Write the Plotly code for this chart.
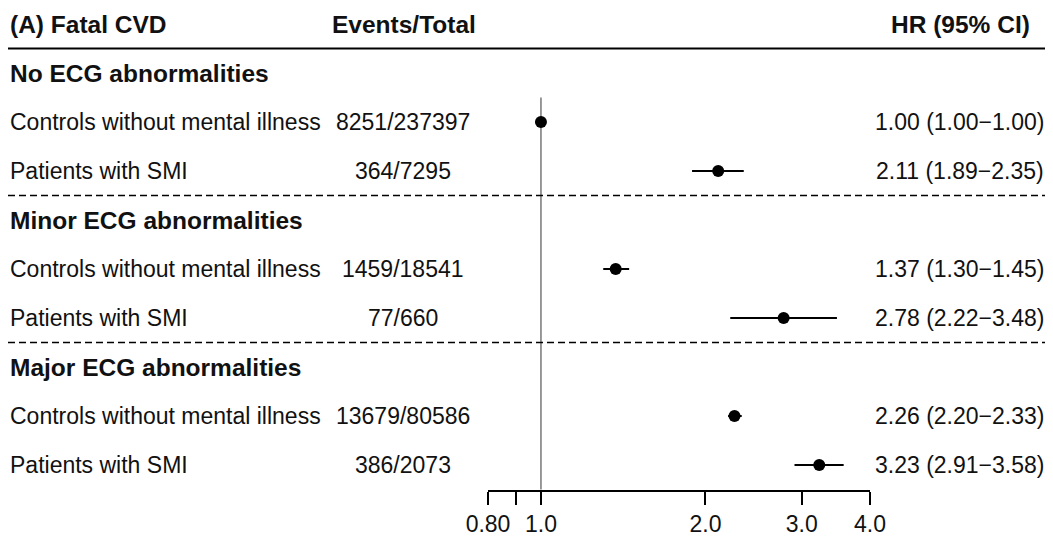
import plotly.graph_objects as go

# ---- data ----
sections = ["No ECG abnormalities", "Minor ECG abnormalities", "Major ECG abnormalities"]
groups = ["Controls without mental illness", "Patients with SMI"]
events = ["8251/237397", "364/7295", "1459/18541", "77/660", "13679/80586", "386/2073"]
hr = [1.00, 2.11, 1.37, 2.78, 2.26, 3.23]
lo = [1.00, 1.89, 1.30, 2.22, 2.20, 2.91]
hi = [1.00, 2.35, 1.45, 3.48, 2.33, 3.58]
tick_vals = [0.8, 0.9, 1.0, 2.0, 3.0, 4.0]
tick_text = ["0.80", "", "1.0", "2.0", "3.0", "4.0"]

OFF = 8  # page body margin
W, H = 1053 - OFF, 548 - OFF
ML, MR, MT, MB = 488 - OFF, 183, 0, 58
PW = W - ML - MR
PH = H - MT - MB
ROW0, ROWH = 73 - OFF, 49  # pixel of row 0 and row spacing

def px_to_paper_x(px):
    return (px - OFF - ML) / PW

# row indices: section header rows 0,3,6 ; data rows follow
row_idx = []
sec_rows = []
r = 0
for s in sections:
    sec_rows.append(r)
    r += 1
    for g in groups:
        row_idx.append(r)
        r += 1
last_row = r - 1

FONT = "Liberation Sans, Arial, sans-serif"
NORM = 23
BOLD = 24.5
LEFT_X = 8

fig = go.Figure()

fig.add_trace(go.Scatter(
    x=hr, y=row_idx, mode="markers",
    marker=dict(color="black", size=12, symbol="circle"),
    error_x=dict(type="data", symmetric=False,
                 array=[h - v for h, v in zip(hi, hr)],
                 arrayminus=[v - l for v, l in zip(hr, lo)],
                 color="black", thickness=2, width=0),
    showlegend=False, hoverinfo="skip", cliponaxis=False,
))

ann = []
# headers
ann.append(dict(text="<b>(A) Fatal CVD</b>", x=px_to_paper_x(LEFT_X), xanchor="left", y=-1, font=dict(size=BOLD)))
ann.append(dict(text="<b>Events/Total</b>", x=px_to_paper_x(404), xanchor="center", y=-1, font=dict(size=BOLD)))
ann.append(dict(text="<b>HR (95% CI)</b>", x=px_to_paper_x(1032), xanchor="right", y=-1, font=dict(size=BOLD)))
for s, rr in zip(sections, sec_rows):
    ann.append(dict(text="<b>%s</b>" % s, x=px_to_paper_x(LEFT_X), xanchor="left", y=rr, font=dict(size=BOLD)))
k = 0
for si in range(len(sections)):
    for g in groups:
        rr = row_idx[k]
        ann.append(dict(text=g, x=px_to_paper_x(LEFT_X), xanchor="left", y=rr, font=dict(size=NORM)))
        ann.append(dict(text=events[k], x=px_to_paper_x(403), xanchor="center", y=rr, font=dict(size=NORM)))
        ann.append(dict(text="%.2f (%.2f\u2212%.2f)" % (hr[k], lo[k], hi[k]),
                        x=px_to_paper_x(1046), xanchor="right", y=rr, font=dict(size=NORM)))
        k += 1
for a in ann:
    a.update(xref="paper", yref="y", showarrow=False, yanchor="middle")
    a["font"].update(family=FONT, color="#111111")

shapes = []
# header rule
shapes.append(dict(type="line", xref="paper", yref="y", x0=px_to_paper_x(8), x1=px_to_paper_x(1050),
                   y0=-0.5, y1=-0.5, line=dict(color="black", width=2.2)))
# section dividers
for rr in sec_rows[1:]:
    shapes.append(dict(type="line", xref="paper", yref="y", x0=px_to_paper_x(8), x1=px_to_paper_x(1046),
                       y0=rr - 0.5, y1=rr - 0.5, line=dict(color="black", width=1.5, dash="7px,4px")))
# reference line at HR = 1
shapes.append(dict(type="line", xref="x", yref="y", x0=1, x1=1, y0=0.5, y1=last_row + 0.5,
                   line=dict(color="#777777", width=1.5), layer="below"))

y_top = -(ROW0 - MT) / ROWH
y_bot = (MT + PH - ROW0) / ROWH

fig.update_layout(
    width=W, height=H,
    margin=dict(l=ML, r=MR, t=MT, b=MB, pad=0),
    paper_bgcolor="white", plot_bgcolor="white",
    annotations=ann, shapes=shapes,
    xaxis=dict(type="log", range=[-0.09691, 0.60206], tickvals=tick_vals, ticktext=tick_text,
               showgrid=False, zeroline=False, showline=True, linecolor="black", linewidth=1.5,
               ticks="outside", ticklen=13, tickwidth=1.5, tickcolor="black",
               tickfont=dict(family=FONT, size=NORM, color="#111111")),
    yaxis=dict(range=[y_bot, y_top], visible=False, showgrid=False, zeroline=False),
)

fig.write_html("out.html")
